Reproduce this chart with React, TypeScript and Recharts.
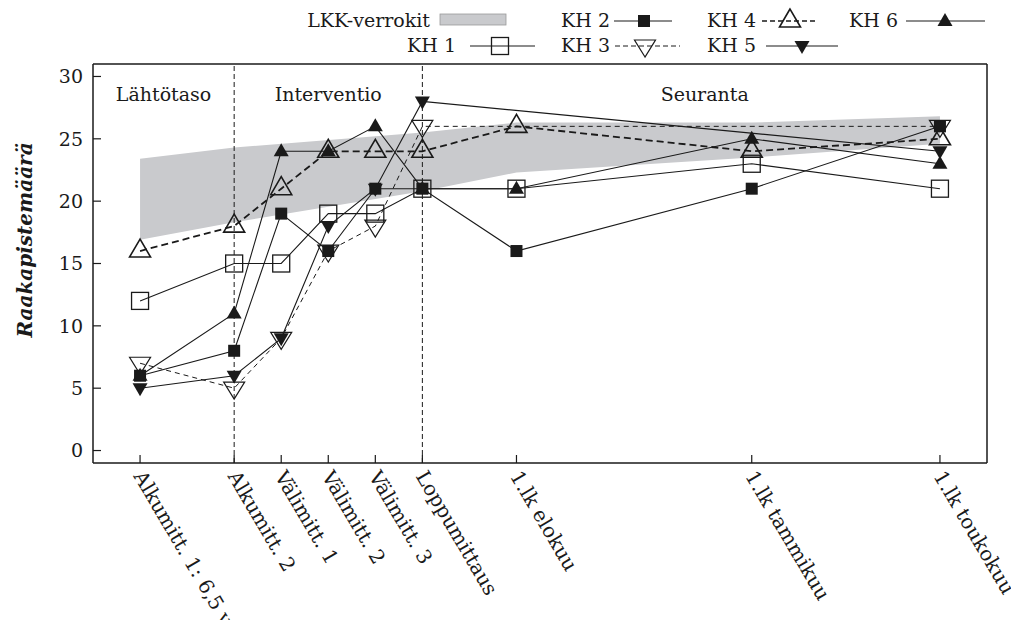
import React from "react";
import {
  ComposedChart,
  Line,
  Area,
  XAxis,
  YAxis,
  ReferenceLine,
  ReferenceArea,
} from "recharts";

const FONT = "'DejaVu Serif', 'Liberation Serif', serif";
const INK = "#1a1a1a";
const BAND = "#c9cacd";

// measurement points (x position on a non-uniform time scale)
const xPos = [0, 2, 3, 4, 5, 6, 8, 13, 17];
const xLabels = [
  "Alkumitt. 1: 6,5 v",
  "Alkumitt. 2",
  "Välimitt. 1",
  "Välimitt. 2",
  "Välimitt. 3",
  "Loppumittaus",
  "1.lk elokuu",
  "1.lk tammikuu",
  "1.lk toukokuu",
];

const kh1 = [12, 15, 15, 19, 19, 21, 21, 23, 21];
const kh2 = [6, 8, 19, 16, 21, 21, 16, 21, 26];
const kh3 = [7, 5, 9, 16, 18, 26, null, null, 26];
const kh4 = [16, 18, 21, 24, 24, 24, 26, 24, 25];
const kh5 = [5, 6, 9, 18, 21, 28, null, null, 24];
const kh6 = [6, 11, 24, 24, 26, 21, 21, 25, 23];

// LKK comparison band
const bandX = [0, 2, 6, 8, 13, 17];
const bandLow = [16.9, 18.3, 20.8, 22.3, 23.5, 24.6];
const bandHigh = [23.4, 24.3, 25.5, 26.3, 26.3, 26.8];

const yTicks = [0, 5, 10, 15, 20, 25, 30];

const rows = xPos.map((x, i) => ({
  x,
  kh1: kh1[i],
  kh2: kh2[i],
  kh3: kh3[i],
  kh4: kh4[i],
  kh5: kh5[i],
  kh6: kh6[i],
}));
const bandRows = bandX.map((x, i) => ({ x, range: [bandLow[i], bandHigh[i]] }));

type Kind = "sqOpen" | "sqFill" | "upOpen" | "downOpen" | "upFill" | "downFill";

function Marker({ kind, cx, cy }: { kind: Kind; cx: number; cy: number }) {
  switch (kind) {
    case "sqOpen":
      return <rect x={cx - 8.5} y={cy - 8.5} width={17} height={17} fill="none" stroke={INK} strokeWidth={1.3} />;
    case "sqFill":
      return <rect x={cx - 6} y={cy - 6} width={12} height={12} fill={INK} />;
    case "upOpen":
      return (
        <polygon
          points={`${cx},${cy - 12} ${cx - 10.5},${cy + 6} ${cx + 10.5},${cy + 6}`}
          fill="none"
          stroke={INK}
          strokeWidth={1.6}
        />
      );
    case "downOpen":
      return (
        <polygon
          points={`${cx},${cy + 11} ${cx - 10.5},${cy - 6} ${cx + 10.5},${cy - 6}`}
          fill="none"
          stroke={INK}
          strokeWidth={1.2}
        />
      );
    case "upFill":
      return <polygon points={`${cx},${cy - 8} ${cx - 7.5},${cy + 5} ${cx + 7.5},${cy + 5}`} fill={INK} />;
    default:
      return <polygon points={`${cx},${cy + 8} ${cx - 7.5},${cy - 5} ${cx + 7.5},${cy - 5}`} fill={INK} />;
  }
}

const dotFor = (kind: Kind) => (p: any) => {
  const k = `${kind}-${p.index}`;
  if (p.cy == null || p.value == null || isNaN(p.cy)) return <g key={k} />;
  return (
    <g key={k}>
      <Marker kind={kind} cx={p.cx} cy={p.cy} />
    </g>
  );
};

const series = [
  { key: "kh1", name: "KH 1", kind: "sqOpen" as Kind, dash: undefined, width: 1.1 },
  { key: "kh2", name: "KH 2", kind: "sqFill" as Kind, dash: undefined, width: 1.1 },
  { key: "kh3", name: "KH 3", kind: "downOpen" as Kind, dash: "5 4", width: 1 },
  { key: "kh4", name: "KH 4", kind: "upOpen" as Kind, dash: "7 4", width: 1.8 },
  { key: "kh5", name: "KH 5", kind: "downFill" as Kind, dash: undefined, width: 1.1 },
  { key: "kh6", name: "KH 6", kind: "upFill" as Kind, dash: undefined, width: 1.1 },
];

function XTick({ x, y, payload }: any) {
  const i = xPos.indexOf(payload.value);
  return (
    <text
      transform={`translate(${x - 7},${y + 13}) rotate(59.5)`}
      textAnchor="start"
      fontFamily={FONT}
      fontSize={20}
      fill={INK}
    >
      {xLabels[i]}
    </text>
  );
}

function LegendItem({ tx, ty, label, lx1, lx2, mx, kind, dash, width }: any) {
  return (
    <g>
      <text x={tx} y={ty} textAnchor="end" fontFamily={FONT} fontSize={19} fill={INK}>
        {label}
      </text>
      <line x1={lx1} x2={lx2} y1={ty - 6} y2={ty - 6} stroke={INK} strokeWidth={width} strokeDasharray={dash} />
      <Marker kind={kind} cx={mx} cy={ty - 6} />
    </g>
  );
}

function Overlay() {
  return (
    <svg width={1011} height={620} style={{ position: "absolute", left: 0, top: 0, pointerEvents: "none" }}>
      <text x={430} y={27} textAnchor="end" fontFamily={FONT} fontSize={19} fill={INK}>
        LKK-verrokit
      </text>
      <rect x={440} y={14} width={66} height={11} fill={BAND} stroke="#9a9a9a" strokeWidth={0.8} />
      <LegendItem tx={610} ty={27} label="KH 2" lx1={614} lx2={672} mx={644} kind="sqFill" width={1.1} />
      <LegendItem tx={756} ty={27} label="KH 4" lx1={762} lx2={818} mx={790} kind="upOpen" dash="5 3" width={1.3} />
      <LegendItem tx={898} ty={27} label="KH 6" lx1={906} lx2={985} mx={945} kind="upFill" width={1.1} />
      <LegendItem tx={456} ty={52} label="KH 1" lx1={470} lx2={535} mx={500} kind="sqOpen" width={1.1} />
      <LegendItem tx={610} ty={52} label="KH 3" lx1={615} lx2={680} mx={645} kind="downOpen" dash="5 3" width={1} />
      <LegendItem tx={756} ty={52} label="KH 5" lx1={766} lx2={838} mx={802} kind="downFill" width={1.1} />
      <text
        transform="translate(32,240) rotate(-90)"
        textAnchor="middle"
        fontFamily={FONT}
        fontSize={20}
        fontWeight="bold"
        fontStyle="italic"
        fill={INK}
      >
        Raakapistemäärä
      </text>
    </svg>
  );
}

export default function App() {
  return (
    <div style={{ position: "absolute", left: 0, top: 0, width: 1011, height: 620, background: "#fff", overflow: "hidden" }}>
      <ComposedChart
        width={1011}
        height={620}
        margin={{ top: 63, right: 22, bottom: 7, left: 43 }}
        style={{ fontFamily: FONT }}
      >
        <XAxis
          xAxisId="b"
          type="number"
          dataKey="x"
          domain={[-1, 18]}
          ticks={xPos}
          interval={0}
          height={150}
          tickSize={-8}
          tickMargin={8}
          tick={<XTick />}
          axisLine={{ stroke: INK, strokeWidth: 1.5 }}
          tickLine={{ stroke: INK, strokeWidth: 1.2 }}
          allowDataOverflow
        />
        <XAxis
          xAxisId="t"
          orientation="top"
          type="number"
          dataKey="x"
          domain={[-1, 18]}
          ticks={xPos}
          interval={0}
          height={1}
          tickSize={-8}
          tick={false}
          axisLine={{ stroke: INK, strokeWidth: 1.5 }}
          tickLine={{ stroke: INK, strokeWidth: 1.2 }}
          allowDataOverflow
        />
        <YAxis
          yAxisId="l"
          type="number"
          domain={[-1, 31]}
          ticks={yTicks}
          interval={0}
          width={50}
          tickSize={-8}
          tickMargin={18}
          tick={{ fontFamily: FONT, fontSize: 19, fill: INK }}
          axisLine={{ stroke: INK, strokeWidth: 1.5 }}
          tickLine={{ stroke: INK, strokeWidth: 1.2 }}
          allowDataOverflow
        />
        <YAxis
          yAxisId="r"
          orientation="right"
          type="number"
          domain={[-1, 31]}
          ticks={yTicks}
          interval={0}
          width={2}
          tickSize={-8}
          tick={false}
          axisLine={{ stroke: INK, strokeWidth: 1.5 }}
          tickLine={{ stroke: INK, strokeWidth: 1.2 }}
          allowDataOverflow
        />
        <Area
          xAxisId="b"
          yAxisId="l"
          data={bandRows}
          dataKey="range"
          type="linear"
          stroke="none"
          fill={BAND}
          fillOpacity={1}
          isAnimationActive={false}
          activeDot={false}
        />
        <ReferenceArea
          xAxisId="b"
          yAxisId="l"
          x1={-1}
          x2={2}
          fill="none"
          stroke="none"
          label={{ value: "Lähtötaso", position: "insideTop", offset: 24, fontFamily: FONT, fontSize: 19, fill: INK }}
        />
        <ReferenceArea
          xAxisId="b"
          yAxisId="l"
          x1={2}
          x2={6}
          fill="none"
          stroke="none"
          label={{ value: "Interventio", position: "insideTop", offset: 24, fontFamily: FONT, fontSize: 19, fill: INK }}
        />
        <ReferenceArea
          xAxisId="b"
          yAxisId="l"
          x1={6}
          x2={18}
          fill="none"
          stroke="none"
          label={{ value: "Seuranta", position: "insideTop", offset: 24, fontFamily: FONT, fontSize: 19, fill: INK }}
        />
        <ReferenceLine xAxisId="b" yAxisId="l" x={2} stroke={INK} strokeWidth={1} strokeDasharray="5 3" />
        <ReferenceLine xAxisId="b" yAxisId="l" x={6} stroke={INK} strokeWidth={1} strokeDasharray="5 3" />
        {series.map((s) => (
          <Line
            key={s.key}
            xAxisId="b"
            yAxisId="l"
            data={rows}
            dataKey={s.key}
            name={s.name}
            type="linear"
            stroke={INK}
            strokeWidth={s.width}
            strokeDasharray={s.dash}
            connectNulls
            dot={dotFor(s.kind)}
            activeDot={false}
            isAnimationActive={false}
          />
        ))}
      </ComposedChart>
      <Overlay />
    </div>
  );
}
